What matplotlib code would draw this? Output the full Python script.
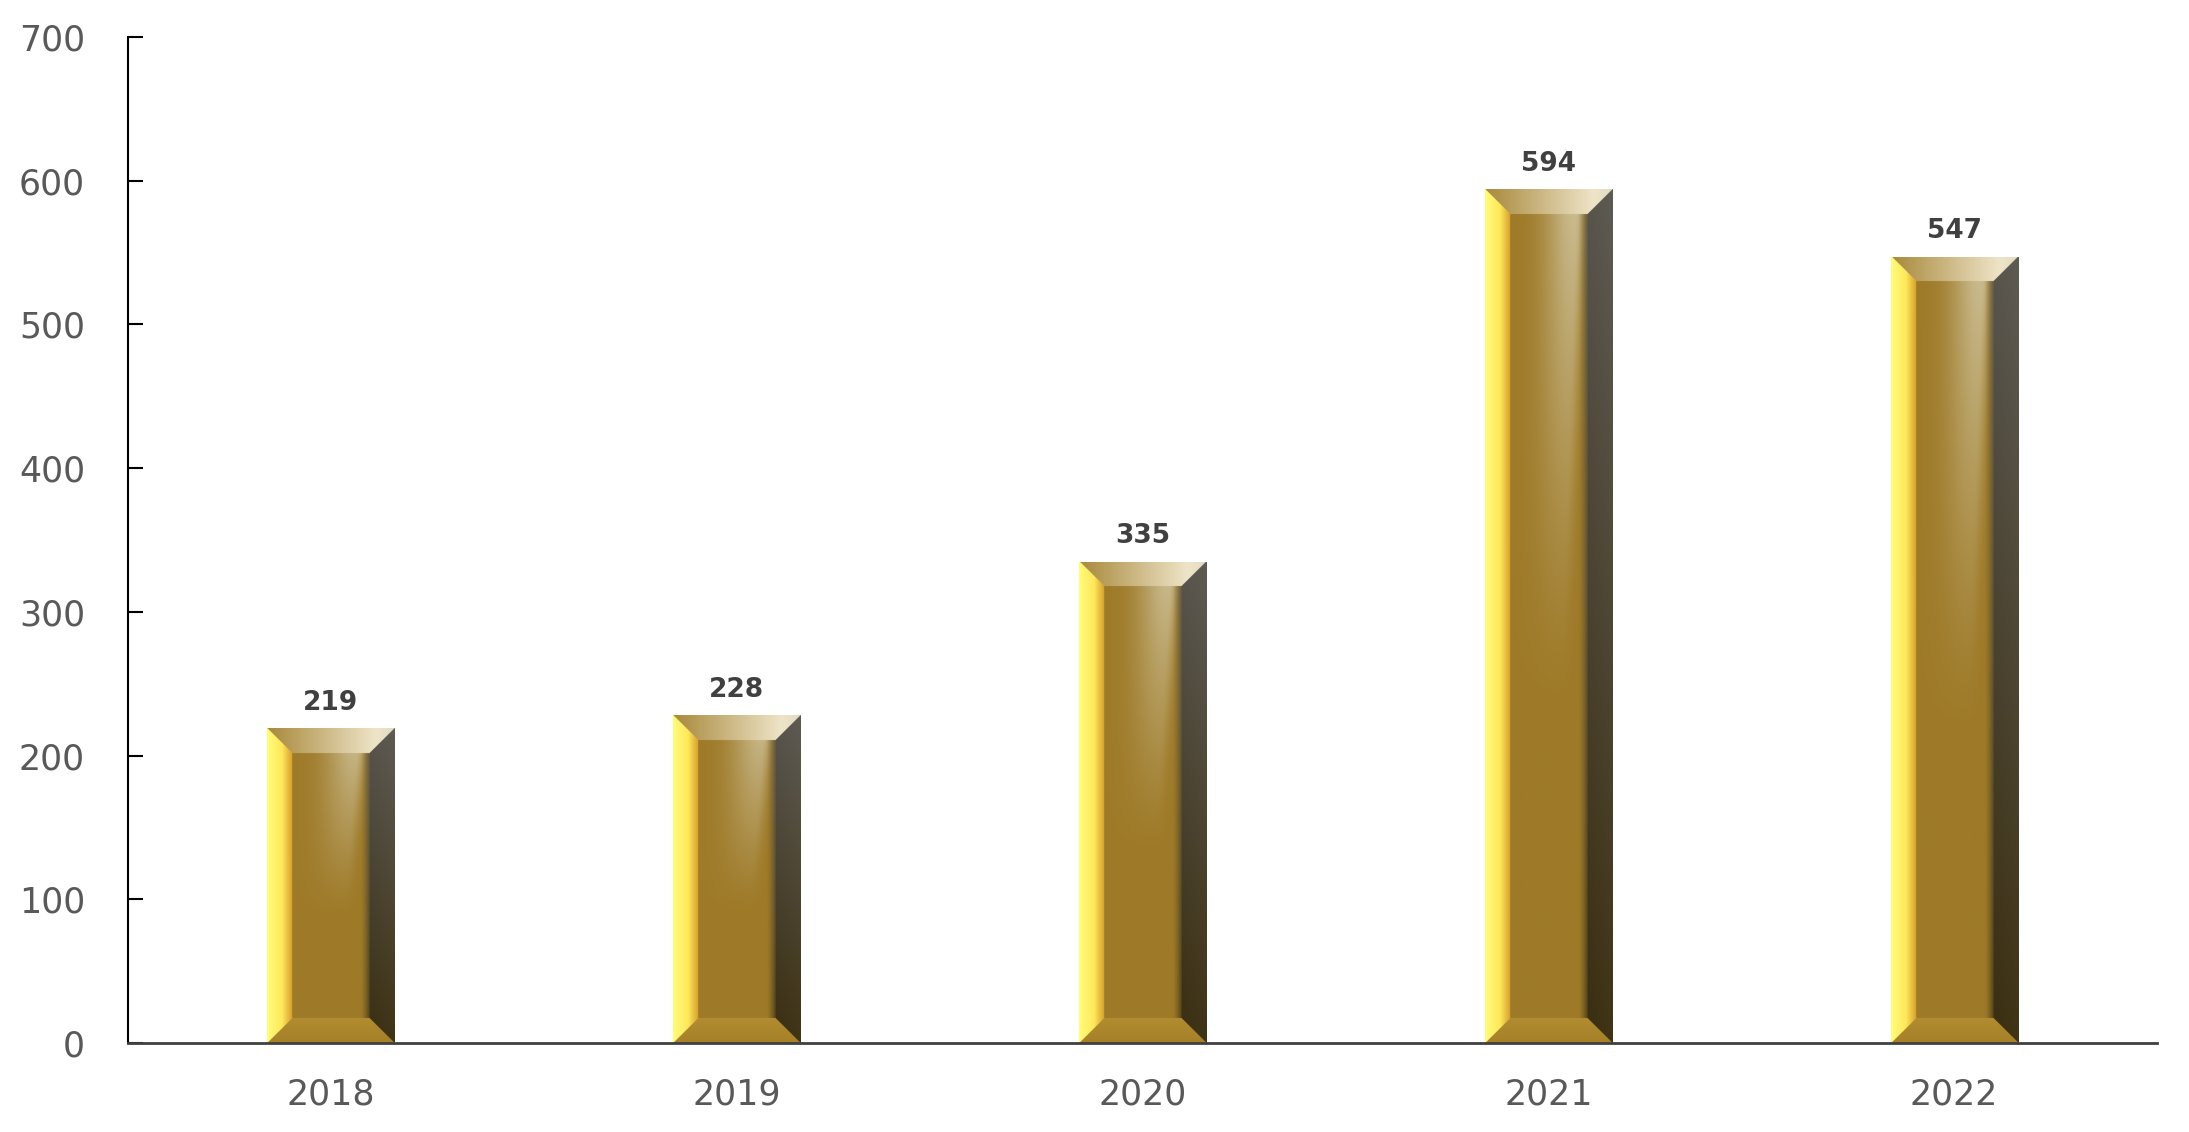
import numpy as np
import matplotlib
matplotlib.use("Agg")
import matplotlib.pyplot as plt

# -----------------------------
# Data
# -----------------------------
years = ["2018", "2019", "2020", "2021", "2022"]
values = [219, 228, 335, 594, 547]
y_ticks = [0, 100, 200, 300, 400, 500, 600, 700]

BAR_WIDTH = 0.313
BEVEL_PX = 25


def lerp(c0, c1, t):
    c0 = np.array(c0, dtype=float)
    c1 = np.array(c1, dtype=float)
    return c0 + (c1 - c0) * t[..., None]


def gold_bar_image(w, h, bev):
    """RGB array (h x w) for a bevelled gold bar, row 0 = top."""
    u = (np.arange(w) + 0.5)[None, :] * np.ones((h, 1))
    v = (np.arange(h) + 0.5)[:, None] * np.ones((1, w))
    dist = np.stack([u, w - u, v, h - v])
    region = np.argmin(dist, axis=0)
    face = dist.min(axis=0) > bev
    img = np.zeros((h, w, 3))

    # face: gold with a broad diagonal sheen at the upper right
    xf = np.clip((u - bev) / max(w - 2 * bev, 1), 0, 1)
    yf = v / h
    centre = 0.85 - 0.35 * yf
    fade = np.clip(1 - yf / 0.6, 0, 1) ** 1.2
    d = xf - centre
    sig = np.where(d < 0, 0.38, 0.12)
    hl = np.exp(-(d / sig) ** 2) * fade
    col = lerp((158, 122, 40), (204, 190, 148), hl)
    dark = np.clip((xf - 0.88) / 0.12, 0, 1) ** 1.5
    dark_col = lerp((100, 92, 72), (78, 62, 22), yf)
    col = col * (1 - dark[..., None]) + dark_col * dark[..., None]
    img[face] = col[face]

    # left bevel: bright yellow to gold
    t = np.clip(u / bev, 0, 1)
    left = np.where((t < 0.6)[..., None],
                    lerp((255, 252, 125), (255, 232, 90), t / 0.6),
                    lerp((255, 232, 90), (215, 160, 45), (t - 0.6) / 0.4))
    m = (region == 0) & ~face
    img[m] = left[m]

    # right bevel: grey at top, dark brown at bottom
    t = np.clip((w - u) / bev, 0, 1)
    right = lerp((88, 85, 78), (58, 46, 16), yf) + (1 - t)[..., None] * 6
    m = (region == 1) & ~face
    img[m] = right[m]

    # top bevel: gold to cream from left to right
    xa = u / w
    top = np.where((xa < 0.85)[..., None],
                   lerp((168, 136, 58), (238, 228, 200), xa / 0.85),
                   lerp((238, 228, 200), (225, 218, 195), (xa - 0.85) / 0.15))
    m = (region == 2) & ~face
    img[m] = top[m]

    # bottom bevel: warm gold
    t = np.clip((h - v) / bev, 0, 1)
    bottom = lerp((165, 128, 40), (178, 140, 48), t)
    m = (region == 3) & ~face
    img[m] = bottom[m]

    return np.clip(img, 0, 255) / 255.0


# -----------------------------
# Figure
# -----------------------------
fig = plt.figure(figsize=(21.89, 11.32), dpi=100)
ax = fig.add_axes([0.0585, 0.0786, 0.9269, 0.8887])

x = np.arange(len(years))
bars = ax.bar(x, values, width=BAR_WIDTH, color="none", edgecolor="none")

ax.set_xlim(-0.5, len(years) - 0.5)
ax.set_ylim(0, 700)
ax.set_yticks(y_ticks)
ax.set_xticks(x)
ax.set_xticklabels(years)

for side in ["top", "right"]:
    ax.spines[side].set_visible(False)
ax.spines["left"].set_color("black")
ax.spines["left"].set_linewidth(1.5)
ax.spines["bottom"].set_color("#404040")
ax.spines["bottom"].set_linewidth(2)
ax.spines["bottom"].set_zorder(5)

ax.tick_params(axis="y", direction="in", length=11, width=1.5, pad=31,
               labelsize=25, labelcolor="#595959")
ax.tick_params(axis="x", length=0, pad=25, labelsize=25, labelcolor="#595959")

# gradient fill for each bar, placed on the bar rectangles
for rect, val in zip(bars, values):
    x0, y0 = rect.get_x(), rect.get_y()
    x1, y1 = x0 + rect.get_width(), y0 + rect.get_height()
    (px0, py0), (px1, py1) = ax.transData.transform([(x0, y0), (x1, y1)])
    ss = 2
    w_px = int(round((px1 - px0) * ss))
    h_px = int(round((py1 - py0) * ss))
    img = gold_bar_image(w_px, h_px, BEVEL_PX * ss)
    im = ax.imshow(img, extent=(x0, x1, y0, y1), aspect="auto",
                   interpolation="antialiased", zorder=2)
    im.set_clip_path(rect)
    ax.annotate(str(val), (rect.get_x() + rect.get_width() / 2, y1),
                xytext=(0, 9), textcoords="offset points",
                ha="center", va="bottom", fontsize=19, fontweight="bold",
                color="#404040")

ax.set_xlim(-0.5, len(years) - 0.5)
ax.set_ylim(0, 700)

fig.savefig("out.png", dpi=100)
